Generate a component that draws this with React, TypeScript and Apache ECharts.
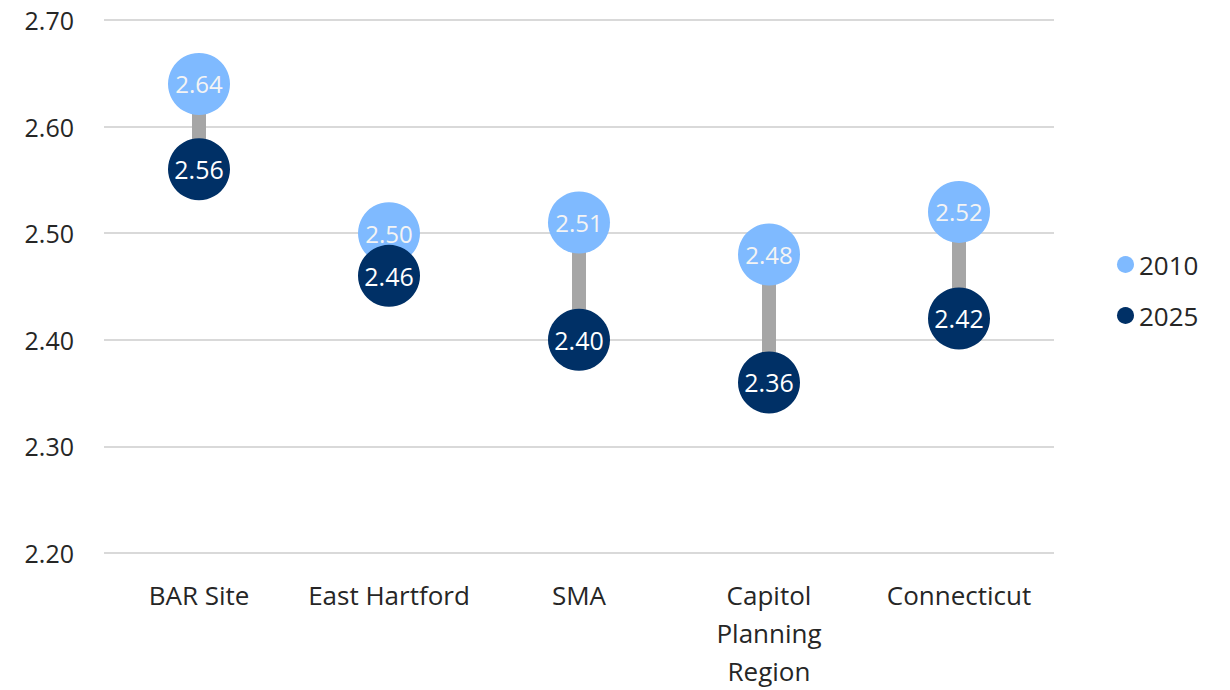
import React, { useEffect, useRef } from "react";
import * as echarts from "echarts";

const categories = ["BAR Site", "East Hartford", "SMA", "Capitol\nPlanning\nRegion", "Connecticut"];
const values2010 = [2.64, 2.5, 2.51, 2.48, 2.52];
const values2025 = [2.56, 2.46, 2.4, 2.36, 2.42];
const seriesNames = ["2010", "2025"];
const colors = ["#7fbaff", "#003066"];

export default function App() {
  const ref = useRef<HTMLDivElement>(null);
  useEffect(() => {
    if (!ref.current) return;
    const chart = echarts.init(ref.current, null, { renderer: "svg" });
    const font = "'Open Sans', 'Noto Sans', sans-serif";
    const rangeData = categories.map((_, i) => [i, values2010[i], values2025[i]]);
    chart.setOption({
      animation: false,
      textStyle: { fontFamily: font },
      grid: { left: 104, right: 176, top: 20, bottom: 137, containLabel: false, outerBoundsMode: "none" },
      legend: {
        orient: "vertical",
        left: 1112,
        top: 246,
        icon: "circle",
        itemWidth: 17,
        itemHeight: 17,
        itemGap: 24,
        data: seriesNames,
        textStyle: { fontSize: 26, color: "#262626", fontFamily: font, lineHeight: 27 },
      },
      xAxis: {
        type: "category",
        data: categories,
        axisLine: { show: false },
        axisTick: { show: false },
        axisLabel: { fontSize: 26, color: "#262626", margin: 23, lineHeight: 38, fontFamily: font, interval: 0 },
      },
      yAxis: {
        type: "value",
        min: 2.2,
        max: 2.7,
        interval: 0.1,
        axisLine: { show: false },
        axisTick: { show: false },
        splitLine: { lineStyle: { color: "#d9d9d9", width: 2 } },
        axisLabel: { fontSize: 25, color: "#262626", margin: 30, fontFamily: font, formatter: (v: number) => v.toFixed(2) },
      },
      series: [
        {
          type: "custom",
          name: "range",
          silent: true,
          data: rangeData,
          encode: { x: 0, y: [1, 2] },
          renderItem: (params: any, api: any) => {
            const p1 = api.coord([api.value(0), api.value(1)]);
            const p2 = api.coord([api.value(0), api.value(2)]);
            const w = 14;
            return {
              type: "rect",
              shape: { x: p1[0] - w / 2, y: p1[1], width: w, height: p2[1] - p1[1] },
              style: { fill: "#a6a6a6" },
            };
          },
          z: 1,
        },
        {
          type: "scatter",
          name: seriesNames[0],
          data: values2010,
          symbolSize: 62,
          itemStyle: { color: colors[0], opacity: 1 },
          label: { show: true, position: "inside", color: "#f4f4f4", fontSize: 24, fontFamily: font, formatter: (p: any) => p.value.toFixed(2) },
          z: 2,
        },
        {
          type: "scatter",
          name: seriesNames[1],
          data: values2025,
          symbolSize: 62,
          itemStyle: { color: colors[1], opacity: 1 },
          label: { show: true, position: "inside", color: "#ffffff", fontSize: 25, fontFamily: font, formatter: (p: any) => p.value.toFixed(2) },
          z: 3,
        },
      ],
    });
    return () => chart.dispose();
  }, []);
  return <div ref={ref} style={{ position: "fixed", left: 0, top: 0, width: 1230, height: 690, background: "#fff" }} />;
}
